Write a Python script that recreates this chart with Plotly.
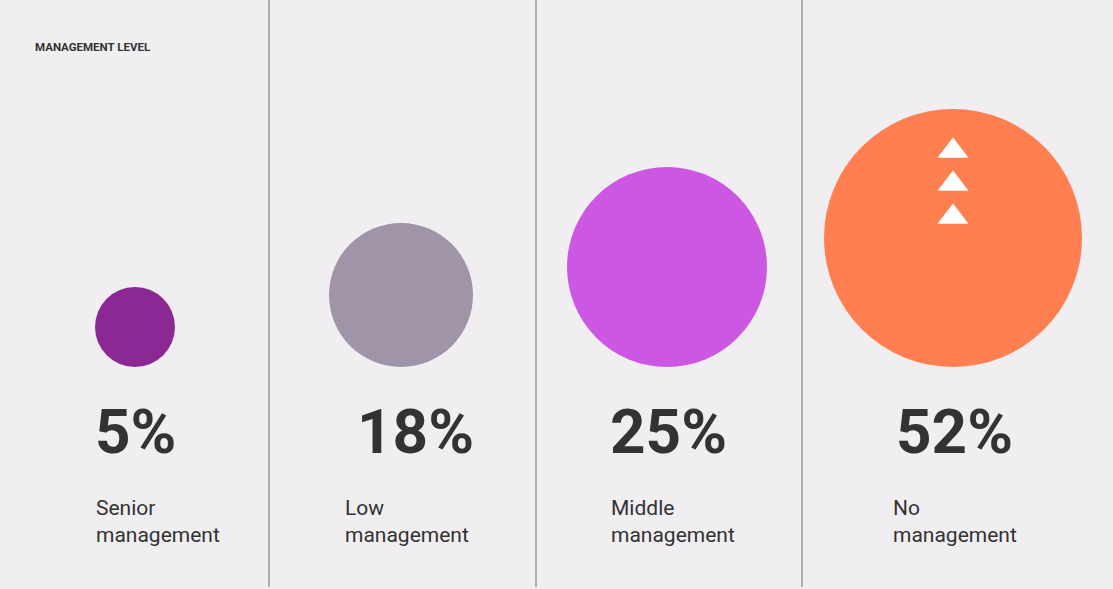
import plotly.graph_objects as go

# ---- data ----
categories = ["Senior<br>management", "Low<br>management", "Middle<br>management", "No<br>management"]
values = [5, 18, 25, 52]
title_text = "MANAGEMENT LEVEL"

# ---- styles / layout (pixel coordinates) ----
W, H = 1113, 589
colors = ["#8b2894", "#9f94a8", "#cb57e3", "#ff7f50"]
diam = [80, 144, 200, 258]
circle_x = [135, 401, 667, 953]
circle_bottom = 367
pct_x = [96, 358, 611, 897]
label_x = [96, 345, 611, 893]
divider_x = [269, 536, 802]
tri_y = [151, 184, 217]

fig = go.Figure()

# circles
fig.add_trace(go.Scatter(
    x=circle_x,
    y=[circle_bottom - d / 2 for d in diam],
    mode="markers",
    marker=dict(size=diam, sizemode="diameter", color=colors, line=dict(width=0), opacity=1),
    hoverinfo="skip", showlegend=False,
))

# arrows inside largest circle
fig.add_trace(go.Scatter(
    x=[circle_x[-1]] * len(tri_y), y=tri_y, mode="markers",
    marker=dict(symbol="triangle-up", size=27, color="white", line=dict(width=0)),
    hoverinfo="skip", showlegend=False,
))

shapes = []
for dx in divider_x:
    shapes.append(dict(type="line", xref="x", yref="y", x0=dx, x1=dx, y0=0, y1=587,
                       line=dict(color="#9a9a9a", width=1.5)))

annotations = [dict(
    x=33, y=47, xref="x", yref="y", text="<b>" + title_text + "</b>", showarrow=False,
    xanchor="left", yanchor="middle", font=dict(family="Roboto", size=11.5, color="#333333"),
)]
for i, v in enumerate(values):
    annotations.append(dict(
        x=pct_x[i] - 3, y=431, xref="x", yref="y", text="<b>%d%%</b>" % v, showarrow=False,
        xanchor="left", yanchor="middle", font=dict(family="Roboto", size=62, color="#333333"),
    ))
    annotations.append(dict(
        x=label_x[i] - 2, y=521, xref="x", yref="y", text=categories[i], showarrow=False,
        xanchor="left", yanchor="middle", align="left",
        font=dict(family="Roboto", size=21, color="#333333"),
    ))

fig.update_layout(
    width=W, height=H,
    margin=dict(l=0, r=0, t=0, b=0),
    paper_bgcolor="#f0eef1", plot_bgcolor="#f0eef1",
    xaxis=dict(range=[0, W], visible=False, fixedrange=True),
    yaxis=dict(range=[H, 0], visible=False, fixedrange=True),
    shapes=shapes, annotations=annotations,
)

fig.write_html("out.html")
